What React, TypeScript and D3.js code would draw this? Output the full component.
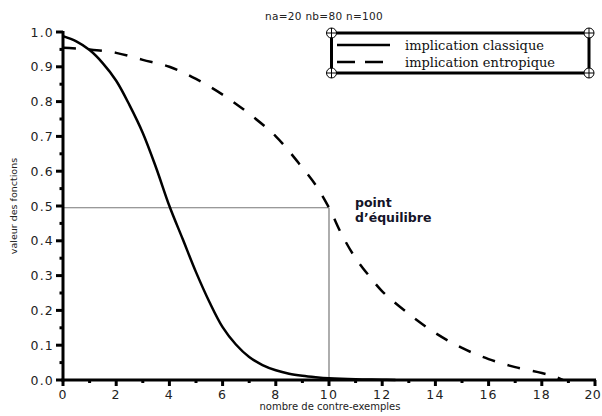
import React, { useEffect, useRef } from "react";
import * as d3 from "d3";

// implication classique
const xClassique = [0, 0.5, 1, 1.5, 2, 2.5, 3, 3.5, 4, 4.5, 5, 5.5, 6, 6.5, 7, 7.5, 8, 8.5, 9, 9.5, 10, 11, 12, 12.5];
const yClassique = [0.988, 0.973, 0.948, 0.91, 0.86, 0.79, 0.71, 0.61, 0.5, 0.405, 0.31, 0.225, 0.152, 0.102, 0.066, 0.043, 0.028, 0.018, 0.012, 0.008, 0.005, 0.002, 0.001, 0];

// implication entropique
const xEntropique = [0, 1, 2, 3, 4, 5, 6, 7, 8, 9, 9.5, 10, 10.5, 11, 11.5, 12, 13, 14, 15, 16, 17, 18, 18.5, 18.8];
const yEntropique = [0.955, 0.95, 0.94, 0.92, 0.9, 0.865, 0.82, 0.765, 0.7, 0.61, 0.56, 0.495, 0.415, 0.35, 0.3, 0.255, 0.19, 0.135, 0.092, 0.06, 0.037, 0.02, 0.01, 0];

const xTicks = [0, 2, 4, 6, 8, 10, 12, 14, 16, 18, 20];
const yTicks = [0, 0.1, 0.2, 0.3, 0.4, 0.5, 0.6, 0.7, 0.8, 0.9, 1.0];
const xMinor = [1, 3, 5, 7, 9, 11, 13, 15, 17, 19];
const yMinor = [0.05, 0.15, 0.25, 0.35, 0.45, 0.55, 0.65, 0.75, 0.85, 0.95];

const equilibre = { x: 10, y: 0.495 };
const legendItems = ["implication classique", "implication entropique"];
const titre = "na=20 nb=80 n=100";

export default function App() {
  const ref = useRef<SVGSVGElement>(null);

  useEffect(() => {
    const svg = d3.select(ref.current);
    svg.selectAll("*").remove();

    const x = d3.scaleLinear().domain([0, 20]).range([63, 595]);
    const y = d3.scaleLinear().domain([0, 1]).range([380, 32]);
    const tickFont = "'DejaVu Sans', Verdana, sans-serif";

    // title
    svg.append("text")
      .attr("x", 324).attr("y", 20)
      .attr("text-anchor", "middle")
      .attr("font-family", tickFont).attr("font-size", 10.5)
      .attr("letter-spacing", 0.3)
      .attr("fill", "#222")
      .text(titre);

    // equilibrium guides
    svg.append("line")
      .attr("x1", x(0)).attr("x2", x(equilibre.x))
      .attr("y1", y(equilibre.y)).attr("y2", y(equilibre.y))
      .attr("stroke", "#777").attr("stroke-width", 1.2);
    svg.append("line")
      .attr("x1", x(equilibre.x)).attr("x2", x(equilibre.x))
      .attr("y1", y(equilibre.y)).attr("y2", y(0))
      .attr("stroke", "#777").attr("stroke-width", 1.2);

    const line = d3.line<[number, number]>()
      .x(d => x(d[0]))
      .y(d => y(d[1]))
      .curve(d3.curveCatmullRom.alpha(0.5));

    svg.append("path")
      .datum(xClassique.map((v, i) => [v, yClassique[i]] as [number, number]))
      .attr("d", line)
      .attr("fill", "none").attr("stroke", "#000").attr("stroke-width", 2.5);

    svg.append("path")
      .datum(xEntropique.map((v, i) => [v, yEntropique[i]] as [number, number]))
      .attr("d", line)
      .attr("fill", "none").attr("stroke", "#000").attr("stroke-width", 2.5)
      .attr("stroke-dasharray", "13,13");

    // axes
    const g = svg.append("g");
    g.append("line")
      .attr("x1", x(0)).attr("x2", x(0)).attr("y1", y(1) - 1).attr("y2", y(0) + 1.5)
      .attr("stroke", "#000").attr("stroke-width", 3);
    g.append("line")
      .attr("x1", x(0) - 1.5).attr("x2", x(20) + 1).attr("y1", y(0)).attr("y2", y(0))
      .attr("stroke", "#000").attr("stroke-width", 3);

    g.selectAll(".ymaj").data(yTicks).join("line")
      .attr("x1", x(0) - 7).attr("x2", x(0))
      .attr("y1", d => y(d)).attr("y2", d => y(d))
      .attr("stroke", "#000").attr("stroke-width", 3);
    g.selectAll(".ymin").data(yMinor).join("line")
      .attr("x1", x(0) - 3.5).attr("x2", x(0))
      .attr("y1", d => y(d)).attr("y2", d => y(d))
      .attr("stroke", "#000").attr("stroke-width", 3);
    g.selectAll(".ylab").data(yTicks).join("text")
      .attr("x", x(0) - 9).attr("y", d => y(d) + 4.5)
      .attr("text-anchor", "end")
      .attr("font-family", tickFont).attr("font-size", 12.5)
      .attr("letter-spacing", 1.2)
      .attr("fill", "#222")
      .text(d => d.toFixed(1));

    g.selectAll(".xmaj").data(xTicks).join("line")
      .attr("x1", d => x(d)).attr("x2", d => x(d))
      .attr("y1", y(0)).attr("y2", y(0) + 6)
      .attr("stroke", "#000").attr("stroke-width", 3);
    g.selectAll(".xmin").data(xMinor).join("line")
      .attr("x1", d => x(d)).attr("x2", d => x(d))
      .attr("y1", y(0)).attr("y2", y(0) + 3)
      .attr("stroke", "#000").attr("stroke-width", 3);
    g.selectAll(".xlab").data(xTicks).join("text")
      .attr("x", d => (d === 20 ? 601 : x(d))).attr("y", y(0) + 19)
      .attr("text-anchor", d => (d === 20 ? "end" : "middle"))
      .attr("font-family", tickFont).attr("font-size", 12.5)
      .attr("letter-spacing", d => (d === 20 ? 0.3 : 1.2))
      .attr("fill", "#222")
      .text(d => String(d));

    // axis titles
    svg.append("text")
      .attr("x", 330).attr("y", 410)
      .attr("text-anchor", "middle")
      .attr("font-family", tickFont).attr("font-size", 10)
      .attr("fill", "#222")
      .text("nombre de contre-exemples");
    svg.append("text")
      .attr("transform", `translate(17, ${y(0.5)}) rotate(-90)`)
      .attr("text-anchor", "middle")
      .attr("font-family", tickFont).attr("font-size", 9.5)
      .attr("fill", "#222")
      .text("valeur des fonctions");

    // annotation
    const ann = svg.append("text")
      .attr("font-family", "'DejaVu Sans', sans-serif").attr("font-weight", "bold")
      .attr("font-size", 12.5).attr("fill", "#141428");
    ann.append("tspan").attr("x", 355).attr("y", 207).text("point");
    ann.append("tspan").attr("x", 355).attr("y", 222).text("d\u2019équilibre");

    // legend
    const lg = svg.append("g");
    const bx0 = 331.5, bx1 = 589, by0 = 33, by1 = 73;
    lg.append("rect")
      .attr("x", bx0).attr("y", by0).attr("width", bx1 - bx0).attr("height", by1 - by0)
      .attr("fill", "#fff").attr("stroke", "#000").attr("stroke-width", 3);
    const corners = [[bx0, by0], [bx1, by0], [bx0, by1], [bx1, by1]];
    corners.forEach(([cx, cy]) => {
      lg.append("circle").attr("cx", cx).attr("cy", cy).attr("r", 5)
        .attr("fill", "#fff").attr("stroke", "#000").attr("stroke-width", 1);
      lg.append("line").attr("x1", cx - 5).attr("x2", cx + 5).attr("y1", cy).attr("y2", cy)
        .attr("stroke", "#000").attr("stroke-width", 1);
      lg.append("line").attr("x1", cx).attr("x2", cx).attr("y1", cy - 5).attr("y2", cy + 5)
        .attr("stroke", "#000").attr("stroke-width", 1);
    });
    legendItems.forEach((label, i) => {
      const ly = 45 + i * 17;
      lg.append("line")
        .attr("x1", 337).attr("x2", 390).attr("y1", ly).attr("y2", ly)
        .attr("stroke", "#000").attr("stroke-width", 2.5)
        .attr("stroke-dasharray", i === 1 ? "18,10" : null);
      lg.append("text")
        .attr("x", 405).attr("y", ly + 4.5)
        .attr("font-family", "'DejaVu Serif', serif").attr("font-size", 13)
        .attr("fill", "#111")
        .text(label);
    });
  }, []);

  return (
    <svg ref={ref} width={602} height={416}
      style={{ position: "absolute", left: 0, top: 0, background: "#fff" }} />
  );
}
